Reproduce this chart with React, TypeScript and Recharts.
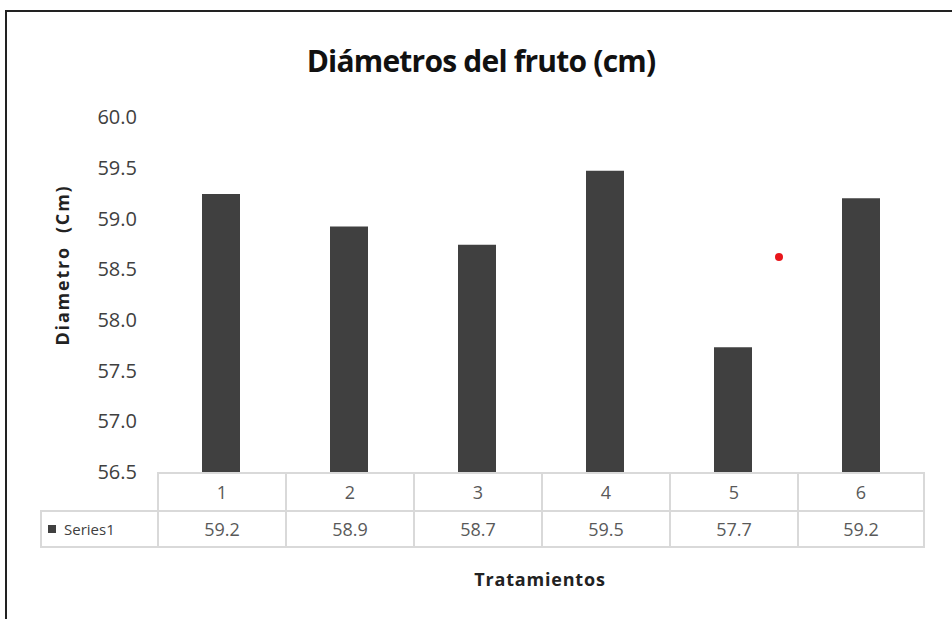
import { BarChart, Bar, XAxis, YAxis } from "recharts";

const categories = ["1", "2", "3", "4", "5", "6"];
const diameters = [59.24, 58.92, 58.74, 59.47, 57.73, 59.2];
const yTicks = [56.5, 57, 57.5, 58, 58.5, 59, 59.5, 60];
const seriesName = "Series1";

const data = categories.map((name, i) => ({ name, value: diameters[i] }));

const W = 952;
const H = 619;
const plotLeft = 157;
const plotRight = 925;
const plotTop = 117;
const plotBottom = 472;
const rowH = 38;
const colW = (plotRight - plotLeft) / categories.length;
const gridColor = "#d9d9d9";
const textFont = "'Open Sans', sans-serif";

export default function App() {
  return (
    <div
      style={{
        position: "absolute",
        left: 0,
        top: 0,
        width: W,
        height: H,
        overflow: "hidden",
        background: "#fff",
        fontFamily: textFont,
      }}
    >
      {/* outer frame, only left and top edges are visible */}
      <div
        style={{
          position: "absolute",
          left: 5,
          top: 10,
          width: 1000,
          height: 700,
          border: "2px solid #222",
        }}
      />

      <div
        style={{
          position: "absolute",
          top: 40,
          left: 0,
          width: 962,
          textAlign: "center",
          fontWeight: 700,
          fontSize: 30,
          letterSpacing: -0.8,
          color: "#111",
        }}
      >
        Diámetros del fruto (cm)
      </div>

      <div
        style={{
          position: "absolute",
          left: 62,
          top: 265,
          transform: "translate(-50%, -50%) rotate(-90deg)",
          whiteSpace: "pre",
          fontWeight: 700,
          fontSize: 18,
          letterSpacing: 1.8,
          color: "#222",
        }}
      >
        {"Diametro  (Cm)"}
      </div>

      <div style={{ position: "absolute", left: 0, top: 0 }}>
        <BarChart
          width={W}
          height={H}
          data={data}
          margin={{ top: plotTop, right: W - plotRight, bottom: H - plotBottom, left: plotLeft - 60 }}
        >
          <XAxis dataKey="name" hide />
          <YAxis
            width={60}
            domain={[56.5, 60]}
            ticks={yTicks}
            allowDataOverflow
            axisLine={false}
            tickLine={false}
            tickSize={0}
            tickMargin={20}
            tickFormatter={(v: number) => v.toFixed(1)}
            tick={{ fill: "#404040", fontSize: 20, fontFamily: textFont }}
          />
          <Bar dataKey="value" fill="#404040" barSize={38} isAnimationActive={false} />
        </BarChart>
      </div>

      {/* data table */}
      <div
        style={{
          position: "absolute",
          left: plotLeft,
          top: plotBottom,
          display: "flex",
        }}
      >
        {categories.map((c, i) => (
          <div
            key={c}
            style={{
              width: colW,
              height: rowH,
              boxSizing: "border-box",
              borderTop: `2px solid ${gridColor}`,
              borderLeft: `2px solid ${gridColor}`,
              borderRight: i === categories.length - 1 ? `2px solid ${gridColor}` : undefined,
              display: "flex",
              alignItems: "center",
              justifyContent: "center",
              fontSize: 18,
              color: "#595959",
            }}
          >
            {c}
          </div>
        ))}
      </div>
      <div
        style={{
          position: "absolute",
          left: 40,
          top: plotBottom + rowH,
          display: "flex",
        }}
      >
        <div
          style={{
            width: plotLeft - 40,
            height: rowH,
            boxSizing: "border-box",
            border: `2px solid ${gridColor}`,
            borderRight: "none",
            display: "flex",
            alignItems: "center",
            fontSize: 15,
            color: "#404040",
          }}
        >
          <span
            style={{ display: "inline-block", width: 8, height: 8, background: "#404040", marginLeft: 6, marginRight: 8 }}
          />
          {seriesName}
        </div>
        {diameters.map((v, i) => (
          <div
            key={i}
            style={{
              width: colW,
              height: rowH,
              boxSizing: "border-box",
              borderTop: `2px solid ${gridColor}`,
              borderBottom: `2px solid ${gridColor}`,
              borderLeft: `2px solid ${gridColor}`,
              borderRight: i === diameters.length - 1 ? `2px solid ${gridColor}` : undefined,
              display: "flex",
              alignItems: "center",
              justifyContent: "center",
              fontSize: 18,
              color: "#595959",
            }}
          >
            {v.toFixed(1)}
          </div>
        ))}
      </div>

      <div
        style={{
          position: "absolute",
          left: 540,
          top: 579,
          transform: "translate(-50%, -50%)",
          whiteSpace: "nowrap",
          fontWeight: 700,
          fontSize: 18,
          letterSpacing: 0.8,
          color: "#222",
        }}
      >
        Tratamientos
      </div>

      {/* stray red mark present in the source image */}
      <div
        style={{
          position: "absolute",
          left: 775,
          top: 253,
          width: 8,
          height: 8,
          borderRadius: "50%",
          background: "#e8161b",
        }}
      />
    </div>
  );
}
